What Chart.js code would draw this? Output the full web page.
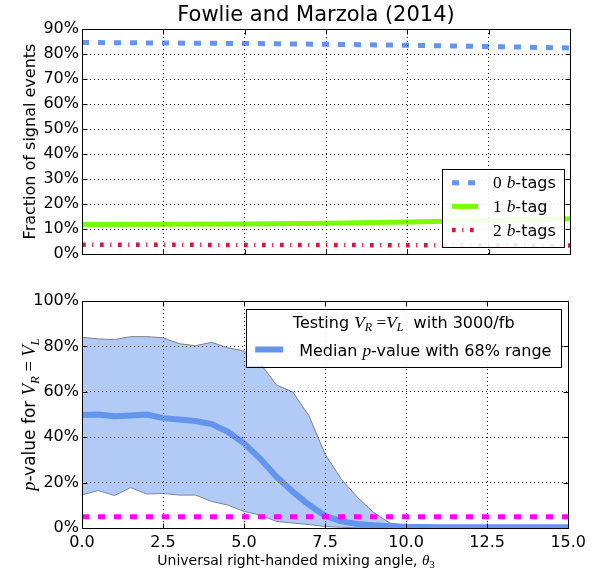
<!DOCTYPE html>
<html>
<head>
<meta charset="utf-8">
<script src="https://cdn.jsdelivr.net/npm/chart.js@4.4.0/dist/chart.umd.min.js"></script>
<style>
html, body { margin: 0; padding: 0; background: #fff; }
#wrap { position: relative; width: 591px; height: 573px; }
canvas { position: absolute; left: 0; display: block; }
#top { top: 0; }
#bottom { top: 280px; }
</style>
</head>
<body>
<div id="wrap">
  <canvas id="top" width="591" height="280" style="width:591px;height:280px"></canvas>
  <canvas id="bottom" width="591" height="293" style="width:591px;height:293px"></canvas>
</div>
<script>
// top panel: fraction of signal events per b-tag multiplicity
const theta = [0, 2.5, 5, 7.5, 10, 12.5, 15];
const zeroTag = [84.6, 84.4, 84.2, 83.9, 83.5, 83.0, 82.4];
const oneTag = [11.8, 11.9, 12.0, 12.3, 12.8, 13.4, 14.1];
const twoTag = [3.7, 3.7, 3.6, 3.6, 3.5, 3.5, 3.4];
const tagLabels = ['$0$ $b$-tags', '$1$ $b$-tag', '$2$ $b$-tags'];

// bottom panel: p-value scan
const thetaScan = [0, 0.5, 1, 1.5, 2, 2.5, 3, 3.5, 4, 4.5, 5, 5.5, 6, 6.5, 7, 7.5,
  8, 8.5, 9, 9.5, 10, 10.5, 11, 11.5, 12, 12.5, 13, 13.5, 14, 14.5, 15];
const pUpper = [84.0, 83.3, 83.0, 84.3, 84.3, 83.8, 81.2, 80.3, 81.8, 79.4, 78.0, 72.5, 63.0, 60.0, 49.5, 32.5,
  21.5, 13.5, 6.8, 2.2, 1.0, 0.4, 0.2, 0.2, 0.2, 0.2, 0.2, 0.2, 0.2, 0.2, 0.2];
const pMedian = [49.8, 50.0, 49.2, 49.6, 50.0, 48.4, 47.8, 47.1, 45.8, 42.4, 37.3, 30.5, 22.6, 16.0, 10.2, 5.4,
  2.9, 1.8, 1.2, 0.8, 0.5, 0.4, 0.3, 0.3, 0.3, 0.3, 0.3, 0.3, 0.3, 0.3, 0.3];
const pLower = [14.6, 16.5, 14.3, 17.8, 15.0, 15.2, 14.5, 14.5, 11.7, 10.1, 7.3, 5.7, 2.9, 2.2, 1.5, 0.7,
  0.3, 0.1, 0, 0, 0, 0, 0, 0, 0, 0, 0, 0, 0, 0, 0];
const thresholdTheta = [0, 15];
const thresholdP = [5, 5];

const xTicks = [0, 2.5, 5, 7.5, 10, 12.5, 15];
const topTicks = [0, 10, 20, 30, 40, 50, 60, 70, 80, 90];
const bottomTicks = [0, 20, 40, 60, 80, 100];

const titleText = 'Fowlie and Marzola (2014)';
const topYLabel = 'Fraction of signal events';
const bottomYLabel = '$p$-value for $V_R = V_L$';
const xLabel = 'Universal right-handed mixing angle, $θ_3$';
const legendTitle = 'Testing $V_R =V_L$  with 3000/fb';
const medianLabel = 'Median $p$-value with 68% range';

const SANS = '"DejaVu Sans", sans-serif';
const SERIF = '"Liberation Serif", "DejaVu Serif", serif';

Chart.defaults.font.family = SANS;
Chart.defaults.color = '#000';

function pts(xs, ys) {
  return xs.map((x, i) => ({ x: x, y: ys[i] }));
}

function crisp(v) { return Math.round(v) + 0.5; }

// tiny mathtext: $...$ segments are set in serif, letters italic, _X subscript
function richRuns(str, size) {
  const runs = [];
  const ms = size * 1.08;
  str.split('$').forEach((seg, i) => {
    if (!seg) return;
    if (i % 2 === 0) {
      runs.push({ text: seg, font: size + 'px ' + SANS, dy: 0 });
      return;
    }
    for (let k = 0; k < seg.length; k++) {
      let ch = seg[k];
      let sub = false;
      if (ch === '_') { ch = seg[++k]; sub = true; }
      const it = /[A-Za-zθ]/.test(ch) ? 'italic ' : '';
      const sz = sub ? ms * 0.7 : ms;
      runs.push({ text: ch, font: it + sz.toFixed(1) + 'px ' + SERIF, dy: sub ? ms * 0.22 : 0 });
    }
  });
  return runs;
}

function drawRich(ctx, str, size, x, y, align) {
  const runs = richRuns(str, size);
  let w = 0;
  runs.forEach(r => { ctx.font = r.font; r.w = ctx.measureText(r.text).width; w += r.w; });
  let cx = align === 'center' ? x - w / 2 : (align === 'right' ? x - w : x);
  ctx.textAlign = 'left';
  ctx.textBaseline = 'alphabetic';
  ctx.fillStyle = '#000';
  runs.forEach(r => { ctx.font = r.font; ctx.fillText(r.text, cx, y + r.dy); cx += r.w; });
}

function drawFrame(chart) {
  const { ctx, chartArea: a, scales } = chart;
  ctx.save();
  ctx.strokeStyle = '#000';
  ctx.lineWidth = 1;
  ctx.setLineDash([]);
  const l = crisp(a.left), r = crisp(a.right), t = crisp(a.top), b = crisp(a.bottom);
  ctx.strokeRect(l, t, r - l, b - t);
  ctx.beginPath();
  scales.x.ticks.forEach(tk => {
    const p = crisp(scales.x.getPixelForValue(tk.value));
    ctx.moveTo(p, b); ctx.lineTo(p, b - 5);
    ctx.moveTo(p, t); ctx.lineTo(p, t + 5);
  });
  scales.y.ticks.forEach(tk => {
    const p = crisp(scales.y.getPixelForValue(tk.value));
    ctx.moveTo(l, p); ctx.lineTo(l + 5, p);
    ctx.moveTo(r, p); ctx.lineTo(r - 5, p);
  });
  ctx.stroke();
  ctx.restore();
}

function legendBox(ctx, x, y, w, h) {
  ctx.save();
  ctx.fillStyle = 'rgba(255,255,255,0.9)';
  ctx.fillRect(x, y, w, h);
  ctx.strokeStyle = '#000';
  ctx.lineWidth = 1;
  ctx.setLineDash([]);
  ctx.strokeRect(crisp(x), crisp(y), Math.round(w), Math.round(h));
  ctx.restore();
}

function sample(ctx, ds, x0, x1, y) {
  ctx.save();
  ctx.strokeStyle = ds.borderColor;
  ctx.lineWidth = ds.borderWidth;
  ctx.setLineDash(ds.borderDash || []);
  ctx.lineCap = 'butt';
  ctx.beginPath();
  ctx.moveTo(x0, y);
  ctx.lineTo(x1, y);
  ctx.stroke();
  ctx.restore();
}

function yTitle(ctx, str, size, x, y) {
  ctx.save();
  ctx.translate(x, y);
  ctx.rotate(-Math.PI / 2);
  drawRich(ctx, str, size, 0, 0, 'center');
  ctx.restore();
}

function scalesFor(yTicks, yMax, showX, xHeight) {
  return {
    x: {
      type: 'linear', min: 0, max: 15,
      afterBuildTicks: s => { s.ticks = xTicks.map(v => ({ value: v })); },
      afterFit: s => { s.height = xHeight; },
      ticks: {
        display: showX, autoSkip: false, maxRotation: 0, padding: 5,
        font: { size: 16 }, color: '#000',
        callback: v => Number(v).toFixed(1)
      },
      grid: { color: '#000', lineWidth: 1, drawTicks: false, z: 1 },
      border: { display: false, dash: [1, 3] }
    },
    y: {
      type: 'linear', min: 0, max: yMax,
      afterBuildTicks: s => { s.ticks = yTicks.map(v => ({ value: v })); },
      afterFit: s => { s.width = 82; },
      ticks: { padding: 3, font: { size: 16 }, color: '#000', callback: v => v + '%' },
      grid: { color: '#000', lineWidth: 1, drawTicks: false, z: 1 },
      border: { display: false, dash: [1, 3] }
    }
  };
}

const topDatasets = [
  { data: pts(theta, zeroTag), borderColor: '#6495ED', borderWidth: 5, borderDash: [7, 9] },
  { data: pts(theta, oneTag), borderColor: '#7CFC00', borderWidth: 5 },
  { data: pts(theta, twoTag), borderColor: '#DC143C', borderWidth: 4.5, borderDash: [3.7, 6.5, 1.2, 6.6] }
].map((d, i) => Object.assign({ label: tagLabels[i], pointRadius: 0, fill: false, clip: 0, tension: 0 }, d));

const topDecor = {
  id: 'topDecor',
  afterDraw(chart) {
    const ctx = chart.ctx, a = chart.chartArea;
    drawFrame(chart);
    ctx.save();
    ctx.fillStyle = '#000';
    ctx.font = '21px ' + SANS;
    ctx.textAlign = 'center';
    ctx.textBaseline = 'alphabetic';
    ctx.fillText(titleText, 316, 21);
    ctx.restore();
    yTitle(ctx, topYLabel, 16, 35, (a.top + a.bottom) / 2);
    const w = 122, h = 78;
    const bx = a.right - 6 - w, by = a.bottom - 7 - h;
    legendBox(ctx, bx, by, w, h);
    chart.data.datasets.forEach((ds, i) => {
      const ry = by + 13.7 + i * 23.7;
      sample(ctx, ds, bx + 10, bx + 36, ry);
      drawRich(ctx, ds.label, 16, bx + 51, ry + 5.5, 'left');
    });
  }
};

new Chart(document.getElementById('top'), {
  type: 'line',
  data: { datasets: topDatasets },
  options: {
    responsive: false,
    animation: false,
    layout: { padding: { left: 0, right: 21, top: 29, bottom: 0 } },
    scales: scalesFor(topTicks, 90, false, 26),
    plugins: { legend: { display: false }, tooltip: { enabled: false }, title: { display: false } }
  },
  plugins: [topDecor]
});

const bottomDatasets = [
  { data: pts(thresholdTheta, thresholdP), borderColor: '#FF00FF', borderWidth: 5, borderDash: [7, 9], fill: false },
  { label: medianLabel, data: pts(thetaScan, pMedian), borderColor: '#6495ED', borderWidth: 6, fill: false },
  { data: pts(thetaScan, pUpper), borderColor: '#808080', borderWidth: 1, fill: '+1', backgroundColor: 'rgba(100,149,237,0.5)' },
  { data: pts(thetaScan, pLower), borderColor: '#808080', borderWidth: 1, fill: false }
].map(d => Object.assign({ pointRadius: 0, clip: 0, tension: 0 }, d));

const bottomDecor = {
  id: 'bottomDecor',
  afterDraw(chart) {
    const ctx = chart.ctx, a = chart.chartArea;
    drawFrame(chart);
    yTitle(ctx, bottomYLabel, 17, 35, (a.top + a.bottom) / 2);
    drawRich(ctx, xLabel, 14, 296, a.bottom + 37, 'center');
    const w = 315, h = 58;
    const bx = a.right - 7 - w, by = a.top + 7.5;
    legendBox(ctx, bx, by, w, h);
    drawRich(ctx, legendTitle, 16, bx + w / 2, by + 19, 'center');
    const ds = chart.data.datasets[1];
    sample(ctx, ds, bx + 9, bx + 37, by + 41);
    drawRich(ctx, ds.label, 16, bx + 53, by + 47, 'left');
  }
};

new Chart(document.getElementById('bottom'), {
  type: 'line',
  data: { datasets: bottomDatasets },
  options: {
    responsive: false,
    animation: false,
    layout: { padding: { left: 0, right: 21, top: 21, bottom: 0 } },
    scales: scalesFor(bottomTicks, 100, true, 45),
    plugins: { legend: { display: false }, tooltip: { enabled: false }, title: { display: false } }
  },
  plugins: [bottomDecor]
});
</script>
</body>
</html>
